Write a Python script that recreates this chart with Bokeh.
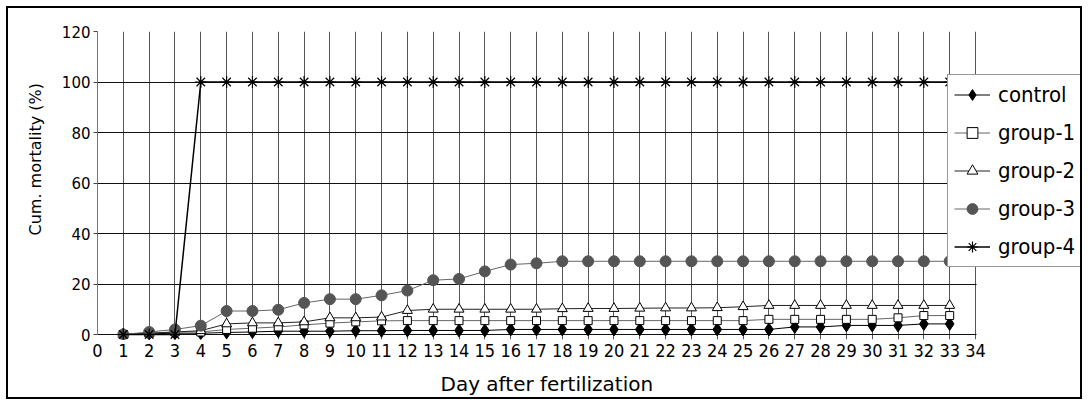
from bokeh.plotting import figure
from bokeh.models import (Range1d, FixedTicker, Legend, LegendItem, Grid, Title,
                          BoxAnnotation, LinearAxis)
from bokeh.embed import file_html
from bokeh.resources import INLINE

# ---- data ----
days = list(range(1, 34))
control = [0, 0.3, 0.5, 0.5, 0.8, 1.0, 1.3, 1.3, 1.3, 1.5, 1.5, 1.6, 1.6, 1.6, 1.6, 2.0, 2.0,
           2.0, 2.0, 2.0, 2.0, 2.0, 2.0, 2.0, 2.0, 2.0, 3.0, 3.0, 3.6, 3.6, 3.6, 4.2, 4.2]
group1 = [0, 0.5, 1.0, 1.0, 2.0, 2.5, 3.0, 3.8, 4.5, 5.0, 5.4, 5.5, 5.5, 5.5, 5.5, 5.5, 5.5,
          5.5, 5.5, 5.5, 5.5, 5.5, 5.5, 5.5, 5.5, 6.0, 6.0, 6.0, 6.0, 6.0, 6.6, 7.5, 7.5]
group2 = [0, 0.5, 1.0, 1.5, 4.2, 4.6, 4.6, 5.0, 6.6, 6.6, 6.9, 9.5, 10.0, 10.0, 10.0, 10.0, 10.0,
          10.2, 10.3, 10.3, 10.4, 10.5, 10.5, 10.6, 11.0, 11.5, 11.5, 11.5, 11.5, 11.5, 11.5, 11.5, 11.5]
group3 = [0, 1.0, 2.0, 3.5, 9.3, 9.3, 9.8, 12.5, 14.0, 14.0, 15.5, 17.4, 21.5, 22.0, 25.0, 27.7, 28.2,
          29, 29, 29, 29, 29, 29, 29, 29, 29, 29, 29, 29, 29, 29, 29, 29]
group4 = [0, 0, 0] + [100] * 30

series_names = ["control", "group-1", "group-2", "group-3", "group-4"]
x_ticks = list(range(0, 35))
y_ticks = [0, 20, 40, 60, 80, 100, 120]
x_max = 34
y_max = 120

# geometry: 34 days over 878 px, 120 units over 303 px
px_day = 878 / x_max
px_unit = 303 / y_max
frame_w = 983
frame_h = 308
x_end = frame_w / px_day
y_start = -(frame_h - 303) / px_unit

NARROW = "DejaVu Sans Condensed, Roboto"

p = figure(frame_width=frame_w, frame_height=frame_h,
           min_border_left=89, min_border_right=0, min_border_top=23, min_border_bottom=58,
           x_range=Range1d(0, x_end), y_range=Range1d(y_start, y_max),
           output_backend="svg", toolbar_location=None)
p.styles = {"border": "2px solid black", "margin": "6px 0px 0px 6px"}
p.outline_line_color = None
p.background_fill_color = "white"
p.border_fill_color = "white"

# axes
xa = p.xaxis[0]
xa.ticker = FixedTicker(ticks=x_ticks)
xa.axis_line_color = None
xa.major_tick_out = 0
xa.major_tick_in = 0
xa.minor_tick_out = 0
xa.minor_tick_in = 0
xa.major_label_standoff = 4
xa.major_label_text_font = NARROW
xa.major_label_text_font_size = "18px"
xa.major_label_text_color = "black"

ya = p.yaxis[0]
ya.ticker = FixedTicker(ticks=y_ticks)
ya.bounds = (0, y_max)
ya.axis_line_color = "#777777"
ya.major_tick_out = 4
ya.major_tick_in = 0
ya.minor_tick_out = 0
ya.minor_tick_in = 0
ya.major_tick_line_color = "#444444"
ya.major_label_standoff = 3
ya.major_label_text_font = "DejaVu Sans"
ya.major_label_text_font_size = "15px"
ya.major_label_text_color = "black"

# invisible spacer axis below the tick labels (one hidden tick in the blank area, no text)
spacer_tick = x_max + 2
spacer = LinearAxis(ticker=FixedTicker(ticks=[spacer_tick]), axis_line_color=None,
                    major_tick_line_color=None, minor_tick_line_color=None,
                    major_tick_out=11, major_tick_in=0, minor_tick_out=0, minor_tick_in=0,
                    major_label_standoff=0, major_label_overrides={spacer_tick: ""})
p.add_layout(spacer, "below")

# grids
p.xgrid.ticker = FixedTicker(ticks=x_ticks[1:])
p.xgrid.grid_line_color = "#555555"
p.xgrid.grid_line_width = 1
p.ygrid.ticker = FixedTicker(ticks=[0, 20, 40, 60, 80, 100])
p.ygrid.grid_line_color = "#111111"
p.ygrid.grid_line_width = 1
p.add_layout(Grid(dimension=1, ticker=FixedTicker(ticks=[y_max]), grid_line_color="#888888"))

# series
items = []
l0 = p.line(days, control, line_color="black", line_width=1)
m0 = p.scatter(days, control, marker="diamond", size=13, fill_color="black", line_color="black")
items.append(LegendItem(label=series_names[0], renderers=[l0, m0]))

l1 = p.line(days, group1, line_color="#666666", line_width=1)
m1 = p.scatter(days, group1, marker="square", size=8, fill_color="white", line_color="black")
items.append(LegendItem(label=series_names[1], renderers=[l1, m1]))

l2 = p.line(days, group2, line_color="#222222", line_width=1)
m2 = p.scatter(days, group2, marker="triangle", size=10, fill_color="white", line_color="black")
items.append(LegendItem(label=series_names[2], renderers=[l2, m2]))

l3 = p.line(days, group3, line_color="#666666", line_width=1)
m3 = p.scatter(days, group3, marker="circle", size=11, fill_color="#555555", line_color="#555555")
items.append(LegendItem(label=series_names[3], renderers=[l3, m3]))

l4 = p.line(days, group4, line_color="black", line_width=1.5)
m4 = p.scatter(days, group4, marker="asterisk", size=12, line_color="black", line_width=1.2)
items.append(LegendItem(label=series_names[4], renderers=[l4, m4]))

# blank out everything right of day 34
p.add_layout(BoxAnnotation(left=x_max + 0.04, fill_color="white", fill_alpha=1.0,
                           line_color=None))

legend = Legend(items=items, location=(850, 72), orientation="vertical",
                border_line_color="#333333", border_line_width=1,
                background_fill_color="white", background_fill_alpha=1.0,
                label_text_font=NARROW, label_text_font_size="22px",
                label_text_color="black",
                glyph_width=36, glyph_height=27, label_height=27, label_width=95,
                label_standoff=8, spacing=11, padding=6, margin=0)
p.add_layout(legend, "center")

# axis titles
p.add_layout(Title(text="Cum. mortality (%)", align="left", offset=104,
                   vertical_align="middle", standoff=26,
                   text_font="DejaVu Sans", text_font_size="16px",
                   text_font_style="normal", text_color="black"), "left")
p.add_layout(Title(text="Day after fertilization", align="left", offset=343,
                   vertical_align="middle", standoff=0,
                   text_font="DejaVu Sans", text_font_size="20px",
                   text_font_style="normal", text_color="black"), "below")

open("out.html", "w").write(file_html(p, INLINE))
